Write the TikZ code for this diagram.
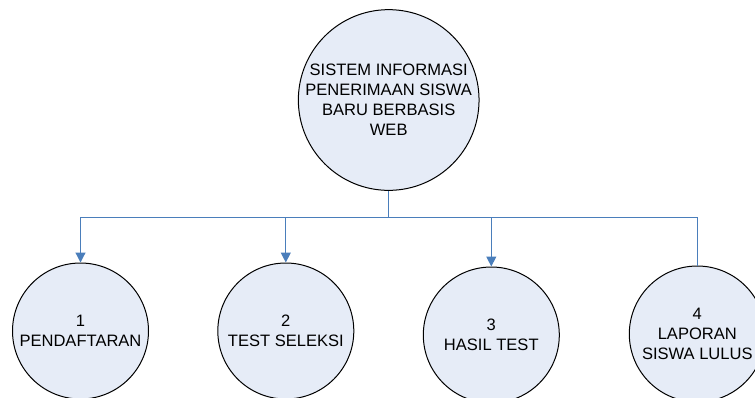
\documentclass[tikz,border=0pt]{standalone}
\usepackage{fontspec}
\setmainfont{Liberation Sans}
\usetikzlibrary{arrows.meta}

\tikzset{
  proses/.style={draw=black, line width=0.75pt, circle, fill={rgb,255:red,230;green,236;blue,247}, inner sep=0pt, align=center, font=\fontsize{12.4}{15}\selectfont},
  garis/.style={draw={rgb,255:red,74;green,126;blue,187}, line width=0.9pt},
  panah/.style={garis, -{Triangle[length=7.5pt,width=7.5pt]}}
}

\begin{document}
\begin{tikzpicture}[x=0.75pt,y=0.75pt,yscale=-1,xscale=1]
\useasboundingbox (0,0) rectangle (755,397);

%Shape: Circle top
\node [proses, minimum size=132pt] (sistem) at (388.7,100) {SISTEM INFORMASI\\PENERIMAAN SISWA\\BARU BERBASIS\\WEB};

%Shape: Circle children
\node [proses, minimum size=102pt] (daftar) at (80.5,331) {1\\PENDAFTARAN};
\node [proses, minimum size=102pt] (seleksi) at (285.8,331) {2\\TEST SELEKSI};
\node [proses, minimum size=102pt] (hasil) at (491.3,335) {3\\HASIL TEST};
\node [proses, minimum size=102pt] (laporan) at (697.3,334) {4\\LAPORAN\\SISWA LULUS};

%Straight Lines
\coordinate (cabang) at (388.7,217.5);
\draw [garis] (sistem.south) -- (cabang);
\draw [panah] (cabang) -| (daftar.north);
\draw [panah] (cabang) -| (seleksi.north);
\draw [panah] (cabang) -| (hasil.north);
\draw [garis] (cabang) -| (laporan.north);

\end{tikzpicture}
\end{document}
